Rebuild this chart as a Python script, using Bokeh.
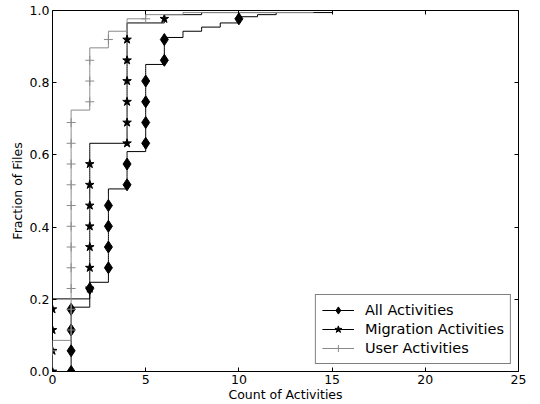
import numpy as np
from bokeh.plotting import figure
from bokeh.models import LinearAxis, Range1d, Legend, LegendItem, FixedTicker, PrintfTickFormatter
from bokeh.embed import file_html
from bokeh.resources import INLINE

# Number of files at each activity count (read from the CDF steps)
all_values = [1, 2, 3, 4, 5, 6, 7, 8, 9, 10, 11, 12, 15]
all_counts = [31, 12, 45, 18, 42, 13, 3, 2, 2, 3, 1, 1, 1]
mig_values = [0, 2, 4, 6, 8, 12]
mig_counts = [35, 75, 58, 4, 1, 1]
user_values = [0, 1, 2, 3, 4, 5, 7, 14]
user_counts = [15, 111, 30, 8, 6, 2, 1, 1]

x_ticks = [0, 5, 10, 15, 20, 25]
y_ticks = [0.0, 0.2, 0.4, 0.6, 0.8, 1.0]
labels = ["All Activities", "Migration Activities", "User Activities"]
MARK_EVERY = 10


def ecdf(values, counts):
    x = np.repeat(values, counts).astype(float)
    y = np.arange(len(x)) / len(x)
    return x, y


FONT = "DejaVu Sans"
GRAY = "#8a8a8a"

p = figure(width=540, height=404, x_range=Range1d(0, 25), y_range=Range1d(0, 1),
           output_backend="svg", toolbar_location=None,
           min_border_left=52, min_border_right=22, min_border_top=10, min_border_bottom=32)
p.grid.visible = False
p.outline_line_color = "black"
p.outline_line_width = 1
p.background_fill_color = "white"
p.border_fill_color = "white"

p.xaxis.ticker = FixedTicker(ticks=x_ticks)
p.yaxis.ticker = FixedTicker(ticks=y_ticks)
p.yaxis.formatter = PrintfTickFormatter(format="%.1f")
p.xaxis.axis_label = "Count of Activities"
p.yaxis.axis_label = "Fraction of Files"
for ax in [p.xaxis[0], p.yaxis[0]]:
    ax.axis_line_color = None
    ax.major_tick_in = 4
    ax.major_tick_out = 0
    ax.minor_tick_line_color = None
    ax.major_label_text_font = FONT
    ax.major_label_text_font_size = "12.5px"
    ax.major_label_text_color = "black"
    ax.major_label_standoff = 3
    ax.axis_label_text_font = FONT
    ax.axis_label_text_font_size = "12.5px"
    ax.axis_label_text_font_style = "normal"
    ax.axis_label_text_color = "black"
p.xaxis.axis_label_standoff = 0
p.yaxis.axis_label_standoff = 2

# tick marks on the top and right edges (no labels)
for loc, ticks in [("right", y_ticks), ("above", x_ticks)]:
    ax = LinearAxis(ticker=FixedTicker(ticks=ticks), axis_line_color=None,
                    major_tick_in=4, major_tick_out=0, minor_tick_line_color=None,
                    major_label_text_color=None, major_label_text_alpha=0,
                    major_label_text_font_size="1px", major_label_standoff=0)
    p.add_layout(ax, loc)

specs = [
    (all_values, all_counts, "black", "diamond", 12),
    (mig_values, mig_counts, "black", "star", 9),
    (user_values, user_counts, GRAY, "cross", 9),
]
items = []
for (vals, cnts, color, marker, size), lab in zip(specs, labels):
    x, y = ecdf(vals, cnts)
    ln = p.step(x, y, mode="before", line_color=color, line_width=1)
    xm, ym = x[::MARK_EVERY], y[::MARK_EVERY]
    if marker == "cross":
        sc = p.scatter(xm, ym, marker=marker, size=size, line_color=color, line_width=1)
    else:
        sc = p.scatter(xm, ym, marker=marker, size=size,
                       fill_color=color, line_color=color, line_width=1)
    items.append(LegendItem(label=lab, renderers=[ln, sc]))

legend = Legend(items=items, location="bottom_right")
legend.margin = 7
legend.padding = 6
legend.spacing = 1
legend.glyph_width = 32
legend.glyph_height = 18
legend.label_height = 18
legend.label_standoff = 11
legend.label_text_font = FONT
legend.label_text_font_size = "14.5px"
legend.label_text_color = "black"
legend.border_line_color = "black"
legend.border_line_width = 1
legend.background_fill_color = "white"
legend.background_fill_alpha = 1
p.add_layout(legend)

open("out.html", "w").write(file_html(p, INLINE))
